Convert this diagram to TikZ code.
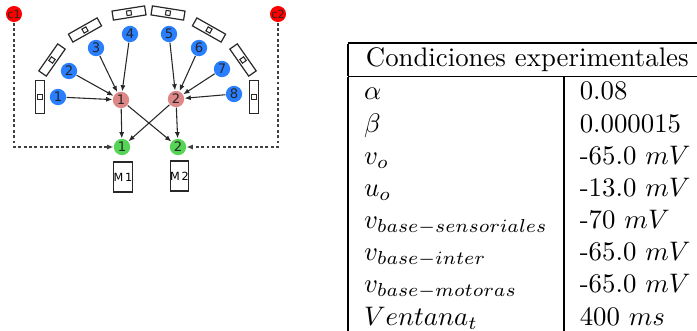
\documentclass[tikz,border=0pt]{standalone}
\usepackage{fontspec}
\newfontfamily\dejavu{DejaVu Sans}
\usetikzlibrary{arrows.meta}
\definecolor{cred}{RGB}{255,0,0}
\definecolor{cblue}{RGB}{42,127,255}
\definecolor{cpink}{RGB}{222,135,135}
\definecolor{cgreen}{RGB}{85,212,85}
\definecolor{cline}{RGB}{40,40,40}
\setlength{\arrayrulewidth}{0.6pt}
\begin{document}
\begin{tikzpicture}[x=0.3731pt,y=-0.3731pt,
  neuron/.style={circle, inner sep=0pt, minimum size=6.1pt, text=black!85,
    font=\dejavu\fontsize{4.9}{5}\selectfont},
  sens/.style={neuron, fill=cblue},
  inter/.style={neuron, fill=cpink},
  motor/.style={neuron, fill=cgreen},
  ctrl/.style={neuron, fill=cred, minimum size=6pt,
    font=\dejavu\fontsize{4.2}{5}\selectfont},
  sensor/.style={draw=cline, line width=0.45pt, minimum width=12.3pt,
    minimum height=3.4pt, inner sep=0pt},
  window/.style={draw=cline, line width=0.4pt, minimum size=1.7pt, inner sep=0pt},
  mbox/.style={draw=cline, line width=0.45pt, minimum width=6.7pt,
    minimum height=11.2pt, inner sep=0pt, font=\dejavu\fontsize{4.2}{5}\selectfont},
  conn/.style={draw=cline, line width=0.4pt, -{Latex[length=2.3pt,width=1.9pt]}},
  ctl/.style={conn, draw=black!75, dash pattern=on 1.1pt off 0.9pt}
]
\useasboundingbox (0,0) rectangle (697,330);

% sensors (rectangles)
\node[sensor, rotate=90] (r1) at (40,97) {};
\node[window, rotate=90] (w1) at (r1.center) {};
\node[sensor, rotate=55] (r2) at (52,60) {};
\node[window, rotate=55] (w2) at (r2.center) {};
\node[sensor, rotate=29.5] (r3) at (85,30) {};
\node[window, rotate=29.5] (w3) at (r3.center) {};
\node[sensor, rotate=9] (r4) at (129,13) {};
\node[window, rotate=9] (w4) at (r4.center) {};
\node[sensor, rotate=-9] (r5) at (168,13) {};
\node[window, rotate=-9] (w5) at (r5.center) {};
\node[sensor, rotate=-29.5] (r6) at (209,30) {};
\node[window, rotate=-29.5] (w6) at (r6.center) {};
\node[sensor, rotate=-55] (r7) at (243,60) {};
\node[window, rotate=-55] (w7) at (r7.center) {};
\node[sensor, rotate=90] (r8) at (254,97) {};
\node[window, rotate=90] (w8) at (r8.center) {};

% sensory neurons
\node[sens] (s1) at (58,97) {1};
\node[sens] (s2) at (69,71) {2};
\node[sens] (s3) at (96,48) {3};
\node[sens] (s4) at (130,34) {4};
\node[sens] (s5) at (169,34) {5};
\node[sens] (s6) at (199,48) {6};
\node[sens] (s7) at (222,69) {7};
\node[sens] (s8) at (234,94) {8};

% interneurons
\node[inter] (i1) at (121,100) {1};
\node[inter] (i2) at (176,99) {2};

% motor neurons
\node[motor] (m1) at (122,147) {1};
\node[motor] (m2) at (178,147) {2};

% control neurons
\node[ctrl] (c1) at (14,14) {c1};
\node[ctrl] (c2) at (278,14) {c2};

% motors
\node[mbox] (M1) at (123,177) {M\,1};
\node[mbox] (M2) at (179.5,176) {M\,2};

% connections
\foreach \s in {s1,s2,s3,s4} \draw[conn] (\s) -- (i1);
\foreach \s in {s5,s6,s7,s8} \draw[conn] (\s) -- (i2);
\draw[conn] (i1) -- (m1);
\draw[conn] (i1) -- (m2);
\draw[conn] (i2) -- (m1);
\draw[conn] (i2) -- (m2);
\draw[ctl] (c1) |- (m1);
\draw[ctl] (c2) |- (m2);

% table
\node[anchor=north west, inner sep=0pt, outer sep=0pt] (tab) at (348,42) {%
\begin{tabular}{|l|l|}
\hline
\multicolumn{2}{|c|}{Condiciones experimentales}\\
\hline
$\alpha$ & 0.08\\
$\beta$ & 0.000015\\
$v_o$ & -65.0 $mV$\\
$u_o$ & -13.0 $mV$\\
$v_{base-sensoriales}$ & -70 $mV$\\
$v_{base-inter}$ & -65.0 $mV$\\
$v_{base-motoras}$ & -65.0 $mV$\\
$Ventana_t$ & 400 $ms$\\
\hline
\end{tabular}};
\end{tikzpicture}
\end{document}
